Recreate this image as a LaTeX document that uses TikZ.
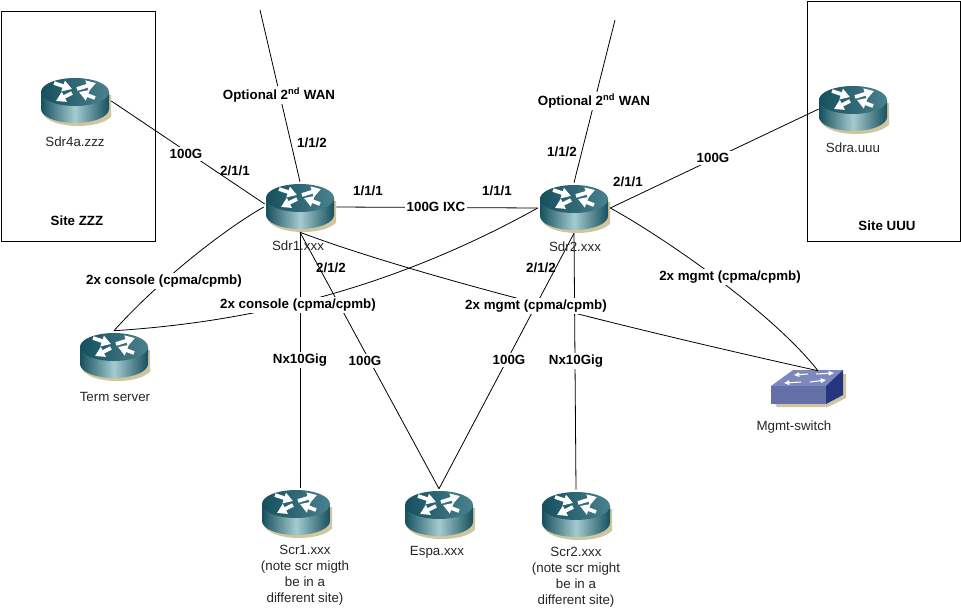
\documentclass[tikz,border=0pt]{standalone}
\usepackage{fontspec}
\setmainfont{Liberation Sans}
\usetikzlibrary{arrows.meta,calc}
\definecolor{rt_top}{HTML}{2A6B7A}
\definecolor{rt_dark}{HTML}{16505E}
\definecolor{rt_light}{HTML}{A5CBD0}
\definecolor{rt_shadow}{HTML}{CFC6A0}
\definecolor{sw_top}{HTML}{7F88BC}
\definecolor{sw_front}{HTML}{6670A8}
\definecolor{sw_side}{HTML}{25357F}
\newcommand{\routerbody}{
	\begin{scope}[shift={(path picture bounding box.center)},shift={(-1,-1)}]
		\fill[rt_shadow] (-32,-6) -- (-32,11) arc[start angle=180,end angle=0,x radius=35,y radius=14] -- (38,-6) -- cycle;
		\shade[left color=rt_dark,right color=rt_dark,middle color=rt_light] (-34,-9) -- (-34,8) arc[start angle=180,end angle=0,x radius=34,y radius=14] -- (34,-9) -- cycle;
		\shade[left color=rt_dark,right color=rt_top!85!white] (0,-9) ellipse[x radius=34,y radius=14];
		\foreach \ax/\ay/\bx/\by in {-21/-18/-3/-12, 2/-12/21/-18, -3/-8/-19/0, 20/-3/4/-9}
			\draw[white,line width=2.8,-{Triangle[width=8,length=7]}] (\ax,\ay) -- (\bx,\by);
	\end{scope}
}
\newcommand{\switchbody}{
	\begin{scope}[shift={(path picture bounding box.center)}]
		\fill[rt_shadow] (-33,16) -- (-31,19) -- (20,19) -- (38,10) -- (38,-14) -- (35,-14) -- cycle;
		\fill[sw_top] (-37,-2) -- (-15,-18) -- (35,-18) -- (18,-2) -- cycle;
		\fill[sw_front] (-37,-2) -- (18,-2) -- (18,16) -- (-37,16) -- cycle;
		\fill[sw_side] (18,-2) -- (35,-18) -- (35,7) -- (18,16) -- cycle;
		\foreach \ax/\ay/\bx/\by in {0/-14/-14/-13, 8/-14/26/-15, -7/-6/-24/-5, 2/-6/18/-8}
			\draw[white,line width=.8,-{Triangle[width=3.5,length=4]}] (\ax,\ay) -- (\bx,\by);
	\end{scope}
}
\tikzset{
	x=.75pt, y=-.75pt,
	net_line/.style = {draw=black, line width=.6pt},
	net_router/.style = {inner sep=0pt, minimum width=54pt, minimum height=37.5pt, path picture={\routerbody}},
	net_switch/.style = {inner sep=0pt, minimum width=60pt, minimum height=30pt, path picture={\switchbody}},
	net_site/.style = {draw=black, line width=.6pt, fill=white, inner sep=0pt},
	net_name/.style = {align=center, inner sep=0pt, font=\fontsize{10}{12}\selectfont, text=black!85},
	net_port/.style = {align=center, inner sep=0pt, font=\fontsize{10}{12}\selectfont\bfseries},
	net_link/.style = {net_port, fill=white, inner sep=1.5pt}
}
\begin{document}
\begin{tikzpicture}
	\path[use as bounding box, fill=white] (0,0) rectangle (961,611);
	\node [net_site, minimum width=115.5pt, minimum height=172.5pt] (zzz) at (78,126) {};
	\node [net_site, minimum width=114.75pt, minimum height=180pt] (uuu) at (884,121) {};
	\coordinate (wan_a) at (260,10);
	\coordinate (wan_b) at (615,20);
	\node [net_router] (sdr4a) at (75,101) {};
	\node [net_router] (sdr1) at (300,207) {};
	\node [net_router] (sdr2) at (574,208) {};
	\node [net_router] (sdra) at (853,109) {};
	\node [net_router] (term) at (114,356) {};
	\node [net_router] (scr1) at (296,513) {};
	\node [net_router] (espa) at (439,514) {};
	\node [net_router] (scr2) at (576,515) {};
	\node [net_switch] (mgmt) at (808,388) {};
	\draw [net_line] (sdr4a.east) -- ($(sdr1.west)+(1,-3)$);
	\draw [net_line] (wan_a) -- (sdr1.north);
	\draw [net_line] (wan_b) -- (sdr2.north);
	\draw [net_line] (sdr1.east) -- (sdr2.west);
	\draw [net_line] (sdr2.east) -- ($(sdra.west)+(2,0)$);
	\draw [net_line] (sdr1.west) .. controls (215,235) and (150,290) .. (term.north);
	\draw [net_line] (term.north) .. controls (250,322) and (390,290) .. (sdr2.west);
	\draw [net_line] (sdr1.south) -- (scr1.north -| sdr1.south);
	\draw [net_line] (sdr1.south) -- (espa.north);
	\draw [net_line] (sdr2.south) -- (espa.north);
	\draw [net_line] (sdr2.south) -- (scr2.north);
	\draw [net_line] (sdr1.south) .. controls (400,270) and (590,320) .. ($(mgmt.north)+(10,3)$);
	\draw [net_line] (sdr2.east) .. controls (660,235) and (770,310) .. ($(mgmt.north)+(10,3)$);
	\node [net_name] (sdr4a_t) at (75,142) {Sdr4a.zzz};
	\node [net_name] (sdr1_t) at (298,246) {Sdr1.xxx};
	\node [net_name] (sdr2_t) at (575,247) {Sdr2.xxx};
	\node [net_name] (sdra_t) at (853,148) {Sdra.uuu};
	\node [net_name] (term_t) at (115,397) {Term server};
	\node [net_name] (mgmt_t) at (794,427) {Mgmt-switch};
	\node [net_name] (scr1_t) at (305,575) {Scr1.xxx\\(note scr migth\\be in a\\different site)};
	\node [net_name] (espa_t) at (437,552) {Espa.xxx};
	\node [net_name] (scr2_t) at (576,577) {Scr2.xxx\\(note scr might\\be in a\\different site)};
	\node [net_port] (zzz_t) at (77,221) {Site ZZZ};
	\node [net_port] (uuu_t) at (887,226) {Site UUU};
	\node [net_link] (wan_a_t) at (279,95) {Optional 2\textsuperscript{nd} WAN};
	\node [net_link] (wan_b_t) at (594,101) {Optional 2\textsuperscript{nd} WAN};
	\node [net_link] (l_zzz) at (186,154) {100G};
	\node [net_link] (l_uuu) at (713,158) {100G};
	\node [net_link] (l_ixc) at (436,207) {100G IXC};
	\node [net_link] (l_con_a) at (164,281) {2x console (cpma/cpmb)};
	\node [net_link] (l_con_b) at (298,305) {2x console (cpma/cpmb)};
	\node [net_link] (l_mg_a) at (536,306) {2x mgmt (cpma/cpmb)};
	\node [net_link] (l_mg_b) at (730,277) {2x mgmt (cpma/cpmb)};
	\node [net_link] (l_nx_a) at (300,360) {Nx10Gig};
	\node [net_link] (l_nx_b) at (576,361) {Nx10Gig};
	\node [net_link] (l_e_a) at (365,361) {100G};
	\node [net_link] (l_e_b) at (509,360) {100G};
	\node [net_port] (p_a) at (235,171) {2/1/1};
	\node [net_port] (p_b) at (312,143) {1/1/2};
	\node [net_port] (p_c) at (368,191) {1/1/1};
	\node [net_port] (p_d) at (497,191) {1/1/1};
	\node [net_port] (p_e) at (331,268) {2/1/2};
	\node [net_port] (p_f) at (541,268) {2/1/2};
	\node [net_port] (p_g) at (562,152) {1/1/2};
	\node [net_port] (p_h) at (628,182) {2/1/1};
\end{tikzpicture}
\end{document}
